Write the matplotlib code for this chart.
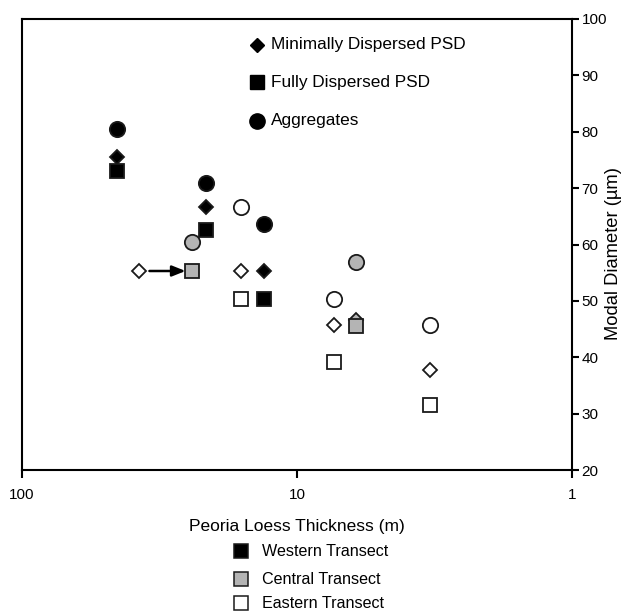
import matplotlib
matplotlib.use("Agg")
import matplotlib.pyplot as plt

plt.rcParams['font.family'] = ['Liberation Sans', 'DejaVu Sans']

# Data: (thickness m, modal diameter um)
# Western transect (black)
west_min_x = [45.1, 21.4, 13.2]
west_min_y = [75.5, 66.7, 55.3]
west_full_x = [45.1, 21.4, 13.2]
west_full_y = [73.1, 62.6, 50.4]
west_agg_x = [45.1, 21.4, 13.2]
west_agg_y = [80.5, 70.9, 63.7]
# Central transect (gray)
cent_min_x = [6.1]
cent_min_y = [46.6]
cent_full_x = [24.1, 6.1]
cent_full_y = [55.3, 45.6]
cent_agg_x = [24.1, 6.1]
cent_agg_y = [60.5, 56.9]
# Eastern transect (white)
east_min_x = [37.5, 16.0, 7.33, 3.28]
east_min_y = [55.3, 55.3, 45.7, 37.8]
east_full_x = [16.0, 7.33, 3.28]
east_full_y = [50.4, 39.2, 31.6]
east_agg_x = [16.0, 7.33, 3.28]
east_agg_y = [66.7, 50.4, 45.7]
# Arrow (shift of a point)
arrow_from = (37.5, 55.3)
arrow_to = (24.1, 55.3)

x_ticks = [100, 10, 1]
y_ticks = [20, 30, 40, 50, 60, 70, 80, 90, 100]

fig = plt.figure(figsize=(6.29, 6.12), dpi=100)
ax = fig.add_axes([22/629, 1-470/612, 550/629, 451/612])
ax.set_xscale('log')
ax.set_xlim(100, 1)
ax.set_ylim(20, 100)

BLACK = '#000000'
GRAY = '#b4b4b4'
WHITE = '#ffffff'
EC = '#1a1a1a'
ms_c, ms_s, ms_d = 11, 10, 7.6
mew = 1.3

def pts(x, y, marker, fc, ms, z=3):
    ax.plot(x, y, linestyle='none', marker=marker, ms=ms, mfc=fc, mec=EC,
            mew=mew, zorder=z, clip_on=False)

# diamonds
pts(west_min_x, west_min_y, 'D', BLACK, ms_d)
pts(cent_min_x, cent_min_y, 'D', GRAY, ms_d, z=2)
pts(east_min_x, east_min_y, 'D', WHITE, ms_d)
# squares
pts(west_full_x, west_full_y, 's', BLACK, ms_s)
pts(cent_full_x, cent_full_y, 's', GRAY, ms_s)
pts(east_full_x, east_full_y, 's', WHITE, ms_s)
# circles
pts(west_agg_x, west_agg_y, 'o', BLACK, ms_c)
pts(cent_agg_x, cent_agg_y, 'o', GRAY, ms_c)
pts(east_agg_x, east_agg_y, 'o', WHITE, ms_c)

ax.annotate('', xy=(arrow_to[0] * 1.055, arrow_to[1]), xytext=(arrow_from[0] / 1.09, arrow_from[1]),
            arrowprops=dict(arrowstyle='-|>,head_length=0.8,head_width=0.32', color='black', lw=1.8,
                            shrinkA=0, shrinkB=0), zorder=4)

# axes styling
for s in ax.spines.values():
    s.set_linewidth(1.5)
ax.yaxis.tick_right()
ax.set_xticks(x_ticks)
ax.set_xticklabels([str(v) for v in x_ticks])
ax.minorticks_off()
ax.set_yticks(y_ticks)
ax.tick_params(axis='x', direction='out', length=6, width=1.5, labelsize=11, pad=7)
ax.tick_params(axis='y', direction='out', length=5, width=1.5, labelsize=11, pad=2)
ax.set_xlabel('Peoria Loess Thickness (m)', fontsize=12.5, labelpad=12)
fig.text(614/629, 1-253/612, 'Modal Diameter (µm)', rotation=90, fontsize=13.2,
         ha='center', va='center')

# top legend (markers)
leg_items = [('D', 'Minimally Dispersed PSD', 7.4, 45),
             ('s', 'Fully Dispersed PSD', 10, 82),
             ('o', 'Aggregates', 11, 121)]
for m, lab, ms, ypx in leg_items:
    fig.lines.append(plt.Line2D([257/629], [1-ypx/612], transform=fig.transFigure,
                                marker=m, ms=ms, mfc='black', mec='black', linestyle='none'))
    fig.text(271/629, 1-ypx/612, lab, fontsize=12.4, va='center', ha='left')

# bottom legend (transects)
tr_items = [(BLACK, 'Western Transect', 551), (GRAY, 'Central Transect', 579), (WHITE, 'Eastern Transect', 603)]
for fc, lab, ypx in tr_items:
    fig.lines.append(plt.Line2D([241/629], [1-ypx/612], transform=fig.transFigure,
                                marker='s', ms=10, mfc=fc, mec=EC, mew=1.1, linestyle='none'))
    fig.text(262/629, 1-ypx/612, lab, fontsize=11.6, va='center', ha='left')

fig.savefig('out.png', dpi=100)
